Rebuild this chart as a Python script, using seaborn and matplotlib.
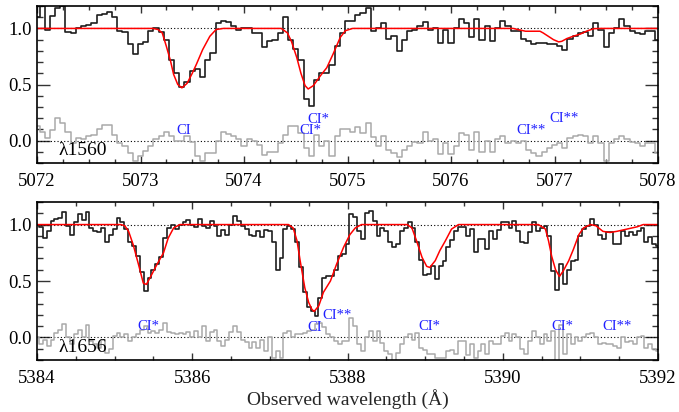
import numpy as np
import pandas as pd
import seaborn as sns
import matplotlib.pyplot as plt
from matplotlib.ticker import MultipleLocator, FormatStrFormatter

# wavelength grids (bin centres, 0.05 A apart)
top_start, bot_start, bin_step = 5072.0, 5384.0, 0.05

top_flux = [
    1.10, 1.20, 0.99, 1.11, 1.18, 1.20, 0.97, 0.96, 1.00, 1.02,
    1.03, 1.05, 1.12, 1.13, 1.15, 1.10, 0.98, 0.97, 0.86, 0.77,
    0.86, 0.88, 0.98, 1.00, 0.97, 0.90, 0.72, 0.60, 0.48, 0.52,
    0.62, 0.64, 0.57, 0.72, 0.78, 1.05, 1.07, 1.06, 1.02, 0.99,
    1.00, 1.00, 0.96, 0.96, 0.83, 0.89, 0.90, 0.96, 1.10, 0.90,
    0.82, 0.72, 0.37, 0.31, 0.54, 0.60, 0.60, 0.67, 0.84, 0.96,
    1.07, 1.07, 1.12, 1.14, 1.18, 0.98, 1.00, 1.05, 0.91, 0.93,
    0.80, 0.90, 0.98, 0.99, 1.02, 1.06, 0.99, 1.00, 0.87, 0.99,
    0.87, 1.00, 1.08, 1.05, 0.92, 1.08, 0.90, 1.02, 0.89, 1.00,
    1.07, 1.02, 0.98, 0.98, 0.91, 0.89, 0.86, 0.87, 0.87, 0.86,
    0.86, 0.84, 0.81, 0.91, 0.93, 0.96, 0.97, 0.93, 1.05, 0.99,
    0.83, 0.96, 1.00, 1.08, 1.02, 0.98, 0.96, 0.95, 0.98, 0.98,
    0.90]
top_resid = [
    0.13, 0.08, 0.02, 0.09, 0.20, 0.16, 0.08, -0.02, 0.02, 0.01,
    0.04, 0.05, 0.10, 0.14, 0.14, 0.05, -0.02, -0.05, -0.11, -0.18,
    -0.14, -0.09, -0.05, 0.01, 0.04, 0.08, 0.04, 0.00, 0.00, 0.04,
    -0.01, -0.14, -0.18, -0.11, -0.11, 0.00, 0.08, 0.06, 0.04, 0.01,
    -0.05, 0.01, 0.00, -0.04, -0.13, -0.10, -0.10, -0.02, 0.05, 0.13,
    0.13, 0.07, -0.07, -0.14, 0.05, -0.05, 0.00, -0.14, 0.04, 0.10,
    0.10, 0.08, 0.12, 0.07, 0.16, 0.03, -0.05, 0.04, -0.08, -0.11,
    -0.15, -0.08, -0.05, -0.01, -0.02, 0.08, 0.00, 0.01, -0.12, -0.02,
    -0.12, -0.05, 0.07, 0.05, -0.08, 0.08, -0.10, 0.00, -0.10, 0.01,
    0.04, -0.02, 0.00, -0.02, 0.00, -0.08, -0.11, -0.14, -0.10, -0.07,
    -0.04, -0.02, -0.07, 0.02, 0.04, 0.05, 0.04, -0.02, 0.04, -0.02,
    -0.18, -0.02, 0.01, 0.04, 0.01, -0.01, -0.02, -0.05, -0.02, -0.02,
    -0.11]
top_model_wave = [
    5072.00, 5073.12, 5073.17, 5073.21, 5073.25, 5073.29, 5073.32, 5073.36,
    5073.40, 5073.45, 5073.50, 5073.54, 5073.60, 5073.67, 5073.73, 5073.80,
    5074.36, 5074.42, 5074.46, 5074.51, 5074.55, 5074.59, 5074.62, 5074.67,
    5074.74, 5074.80, 5074.86, 5074.93, 5074.98, 5075.05,
    5076.60, 5076.67, 5076.72, 5076.86, 5076.89, 5076.94, 5076.99, 5077.04,
    5077.07, 5077.12, 5077.18, 5077.25, 5077.31, 5077.38, 5077.45, 5078.00]
top_model_flux = [
    1.00, 1.00, 0.99, 0.96, 0.84, 0.71, 0.59, 0.50,
    0.47, 0.51, 0.60, 0.68, 0.81, 0.93, 0.99, 1.00,
    1.00, 0.96, 0.88, 0.74, 0.60, 0.49, 0.46, 0.49,
    0.58, 0.65, 0.77, 0.92, 0.98, 1.00,
    1.00, 0.985, 0.975, 0.975, 0.96, 0.93, 0.90, 0.88,
    0.885, 0.91, 0.93, 0.95, 0.976, 0.998, 1.00, 1.00]

bot_flux = [
    1.00, 0.98, 0.88, 0.94, 1.03, 1.05, 1.06, 1.11, 0.99, 0.91,
    1.02, 1.09, 1.04, 1.11, 0.97, 0.94, 0.93, 0.97, 0.85, 0.91,
    0.96, 1.06, 1.02, 0.96, 0.85, 0.81, 0.72, 0.58, 0.41, 0.53,
    0.60, 0.65, 0.71, 0.88, 0.97, 1.00, 0.96, 1.00, 1.02, 1.04,
    1.00, 0.98, 1.05, 0.99, 0.97, 1.03, 0.99, 0.90, 0.95, 0.91,
    1.00, 1.08, 1.03, 0.99, 0.96, 0.91, 0.90, 0.94, 0.89, 0.95,
    0.94, 0.85, 0.60, 0.70, 0.96, 0.99, 0.96, 0.85, 0.62, 0.40,
    0.27, 0.23, 0.19, 0.35, 0.53, 0.54, 0.54, 0.60, 0.72, 0.74,
    0.83, 1.09, 1.07, 0.94, 0.87, 1.10, 1.12, 1.03, 0.90, 0.97,
    0.94, 0.85, 0.80, 0.83, 0.94, 0.97, 1.02, 0.97, 0.85, 0.69,
    0.55, 0.56, 0.63, 0.52, 0.63, 0.68, 0.80, 0.86, 0.94, 0.98,
    0.98, 0.90, 0.96, 0.76, 0.87, 0.87, 0.78, 0.94, 0.87, 0.95,
    1.02, 1.02, 0.97, 1.03, 0.94, 0.85, 0.84, 0.93, 1.02, 0.94,
    0.97, 0.99, 0.90, 0.59, 0.42, 0.65, 0.47, 0.60, 0.68, 0.69,
    0.90, 0.96, 0.99, 1.05, 1.00, 0.91, 0.87, 0.93, 0.93, 0.83,
    0.83, 0.94, 0.90, 0.93, 0.91, 0.94, 0.97, 0.85, 0.89, 0.83,
    0.81]
bot_resid = [
    0.00, -0.06, -0.02, -0.08, -0.02, 0.04, 0.07, 0.12, 0.00, -0.06,
    0.03, 0.07, 0.00, 0.11, -0.03, -0.06, -0.09, -0.02, -0.14, -0.10,
    0.01, 0.04, 0.00, 0.03, -0.03, 0.00, 0.03, 0.07, 0.10, 0.04,
    0.06, 0.04, 0.07, 0.13, 0.05, 0.04, 0.03, 0.04, 0.03, 0.05,
    0.00, 0.06, 0.00, 0.10, -0.03, 0.05, 0.07, -0.03, -0.08, -0.02,
    0.05, 0.10, 0.05, -0.02, -0.04, -0.09, -0.04, -0.09, -0.02, -0.12,
    0.00, -0.18, -0.12, -0.18, 0.04, 0.06, 0.00, 0.03, 0.03, 0.04,
    0.06, 0.07, 0.12, 0.13, 0.09, 0.03, 0.00, -0.03, -0.06, -0.03,
    -0.03, 0.17, 0.10, -0.06, -0.12, 0.00, 0.06, -0.03, 0.06, -0.05,
    -0.12, -0.15, -0.22, -0.14, -0.06, 0.00, 0.03, -0.02, 0.04, -0.09,
    -0.11, -0.15, -0.15, -0.18, -0.18, -0.18, -0.12, -0.11, -0.15, -0.03,
    -0.03, -0.16, -0.06, -0.18, -0.12, -0.06, -0.15, -0.03, -0.06, -0.06,
    0.01, 0.04, -0.03, 0.03, 0.00, -0.10, -0.15, -0.03, 0.06, 0.00,
    -0.06, 0.03, -0.03, 0.06, -0.22, 0.11, -0.15, 0.03, -0.06, 0.00,
    -0.03, 0.00, 0.03, 0.04, 0.00, -0.06, -0.05, -0.06, -0.06, -0.08,
    -0.09, 0.00, -0.04, -0.03, -0.06, 0.00, 0.01, -0.09, -0.06, -0.10,
    -0.12]
bot_model_wave = [
    5384.00, 5385.08, 5385.13, 5385.18, 5385.24, 5385.31, 5385.37, 5385.41,
    5385.48, 5385.54, 5385.63, 5385.69, 5385.76, 5385.84,
    5387.24, 5387.30, 5387.35, 5387.39, 5387.45, 5387.50, 5387.54, 5387.57,
    5387.63, 5387.69, 5387.78, 5387.86, 5387.95, 5388.03, 5388.10, 5388.18,
    5388.77, 5388.83, 5388.89, 5388.96, 5389.02, 5389.06, 5389.13, 5389.19,
    5389.26, 5389.34, 5389.43,
    5390.46, 5390.55, 5390.59, 5390.63, 5390.68, 5390.73, 5390.78, 5390.85,
    5390.91, 5390.98, 5391.04, 5391.13, 5391.20, 5391.29, 5391.38, 5391.47,
    5391.60, 5391.73, 5391.81, 5392.00]
bot_model_flux = [
    1.00, 1.00, 0.99, 0.94, 0.82, 0.64, 0.48, 0.47,
    0.56, 0.64, 0.75, 0.88, 0.97, 1.00,
    1.00, 0.97, 0.855, 0.68, 0.44, 0.31, 0.25, 0.23,
    0.28, 0.40, 0.50, 0.65, 0.80, 0.91, 0.97, 1.00,
    1.00, 0.97, 0.855, 0.71, 0.63, 0.62, 0.68, 0.77,
    0.855, 0.96, 1.00,
    1.00, 0.96, 0.855, 0.72, 0.60, 0.54, 0.59, 0.68,
    0.78, 0.91, 0.97, 1.00, 0.99, 0.94, 0.93, 0.94,
    0.96, 0.98, 1.00, 1.00]

# component labels: (wavelength, height, text)
top_labels = [(5073.42, 0.09, 'CI'), (5074.72, 0.19, 'CI*'), (5074.64, 0.09, 'CI*'),
              (5076.77, 0.09, 'CI**'), (5077.09, 0.20, 'CI**')]
bot_labels = [(5385.43, 0.10, 'CI*'), (5387.58, 0.09, 'CI'), (5387.87, 0.19, 'CI**'),
              (5389.05, 0.10, 'CI*'), (5390.77, 0.10, 'CI*'), (5391.47, 0.10, 'CI**')]

sns.set_style('ticks')
plt.rcParams['font.family'] = ['Liberation Serif', 'DejaVu Serif']

fig = plt.figure(figsize=(6.79, 4.12), dpi=100)
ax_top = fig.add_axes([37/679, 1 - 163/412, 621/679, 157/412])
ax_bot = fig.add_axes([37/679, 1 - 360/412, 621/679, 158/412])

panels = [
    (ax_top, top_start, top_flux, top_resid, top_model_wave, top_model_flux,
     top_labels, (5072, 5078), 1, 0.25, 'λ1560', 5072.21),
    (ax_bot, bot_start, bot_flux, bot_resid, bot_model_wave, bot_model_flux,
     bot_labels, (5384, 5392), 2, 0.5, 'λ1656', 5384.28),
]

for ax, start, flux, resid, mw, mf, labels, xlim, major, minor, name, name_x in panels:
    wave = start + bin_step * np.arange(len(flux))
    df = pd.DataFrame({'wave': wave, 'flux': flux, 'resid': resid})
    model = pd.DataFrame({'wave': mw, 'flux': mf})

    ax.axhline(1.0, color='black', ls=(0, (1, 2)), lw=0.8, zorder=1)
    ax.axhline(0.0, color='black', ls=(0, (1, 2)), lw=0.8, zorder=1)
    sns.lineplot(data=df, x='wave', y='resid', ax=ax, drawstyle='steps-mid',
                 color='#a9a9a9', lw=1.1, estimator=None, sort=False)
    sns.lineplot(data=df, x='wave', y='flux', ax=ax, drawstyle='steps-mid',
                 color='#1e1e1e', lw=1.2, estimator=None, sort=False)
    sns.lineplot(data=model, x='wave', y='flux', ax=ax, color='red', lw=1.1,
                 estimator=None, sort=False)

    for lx, ly, txt in labels:
        ax.text(lx, ly, txt, color='#1f1fff', ha='center', va='center', fontsize=10.5)
    ax.text(name_x, -0.09, name, color='black', ha='left', va='center', fontsize=14)

    ax.set_xlim(*xlim)
    ax.set_ylim(-0.2, 1.2)
    ax.set_xlabel('')
    ax.set_ylabel('')
    ax.xaxis.set_major_locator(MultipleLocator(major))
    ax.xaxis.set_minor_locator(MultipleLocator(minor))
    ax.yaxis.set_major_locator(MultipleLocator(0.5))
    ax.yaxis.set_minor_locator(MultipleLocator(0.1))
    ax.yaxis.set_major_formatter(FormatStrFormatter('%.1f'))
    ax.tick_params(which='both', direction='in', top=True, right=True,
                   labelsize=13.5, width=1, color='#333333', labelcolor='black')
    ax.tick_params(axis='y', which='major', length=9.5, pad=4)
    ax.tick_params(axis='y', which='minor', length=4)
    ax.tick_params(axis='x', which='major', length=5, pad=7)
    ax.tick_params(axis='x', which='minor', length=3)
    for sp in ax.spines.values():
        sp.set_linewidth(1.2)
        sp.set_color('black')

ax_bot.set_xlabel('Observed wavelength (Å)', fontsize=14, labelpad=2)

fig.savefig('out.png', dpi=100)
